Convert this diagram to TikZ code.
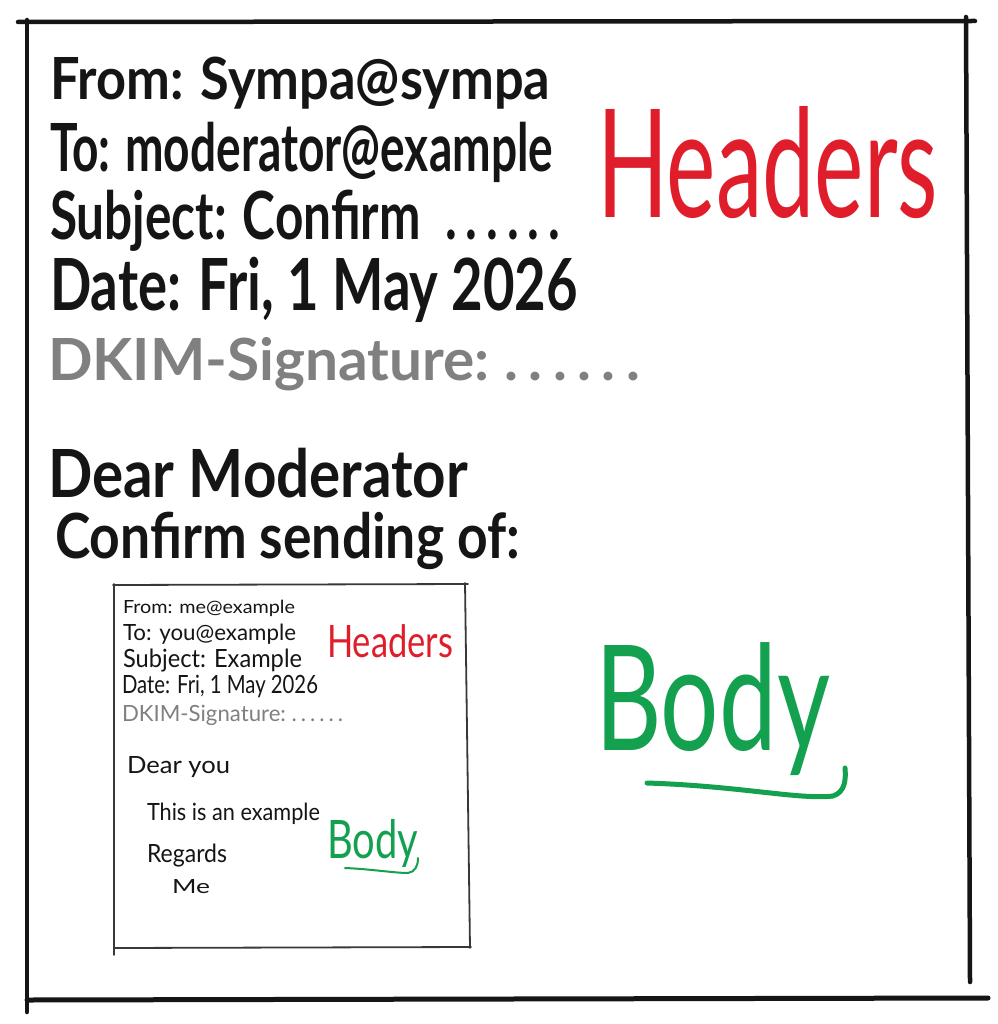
\documentclass[tikz,border=0pt]{standalone}
\usepackage{fontspec}
\usepackage{graphicx}
\setmainfont{Lato}
\definecolor{ink}{HTML}{151515}
\definecolor{hred}{HTML}{E01E2B}
\definecolor{bgreen}{HTML}{13A04F}
\definecolor{dkgray}{HTML}{808080}
\newcommand\fitxt[3]{\resizebox{#1pt}{#2pt}{\vphantom{H}\smash{#3}}}
\newcommand\sdots{.\kern0.18em.\kern0.18em.\kern0.18em.\kern0.18em.\kern0.18em.}
\tikzset{
  txt/.style={anchor=base west, inner sep=0pt, outer sep=0pt, text=ink, font=\fontsize{20}{24}\selectfont},
  bigtxt/.style={txt, font=\fontsize{20}{24}\selectfont\bfseries},
  frame/.style={draw=ink, line width=4.5pt, line cap=round},
  innerframe/.style={draw=ink!85, line width=1.8pt, line cap=round},
  hlabel/.style={txt, text=hred},
  blabel/.style={txt, text=bgreen},
  uline/.style={draw=bgreen, line cap=round},
}
\begin{document}
\begin{tikzpicture}[x=1pt,y=-1pt]
\useasboundingbox[fill=white] (0,0) rectangle (997,1024);
% outer frame
\draw[frame] (18,22) -- (975,21);
\draw[frame] (966,17) -- (970,982);
\draw[frame] (27,20) -- (27,1012);
\draw[frame, line width=5pt] (27,1000) -- (988,998);
% main header lines
\node[bigtxt] (from) at (50,100) {\fitxt{500}{42}{From: Sympa@sympa}};
\node[bigtxt] (to) at (50,172) {\fitxt{503}{48}{To: moderator@example}};
\node[bigtxt] (subj) at (50,240) {\fitxt{510}{48}{Subject: Confirm\ \ \sdots}};
\node[bigtxt] (date) at (50,310) {\fitxt{528}{52}{Date: Fri, 1 May 2026}};
\node[bigtxt, text=dkgray] (dkim) at (48,380) {\fitxt{592}{42}{DKIM-Signature:\ \sdots}};
\node[bigtxt] (dear) at (48,497) {\fitxt{420}{48}{Dear Moderator}};
\node[bigtxt] (conf) at (55,558) {\fitxt{465}{45}{Confirm sending of:}};
% big labels
\node[hlabel] (headers) at (597,218) {\fitxt{341}{108}{Headers}};
\node[blabel] (body) at (595,750) {\fitxt{235}{105}{Body}};
\draw[uline, line width=5pt] (647,783) .. controls (740,786) and (800,800) .. (833,796) .. controls (845,792) and (846,780) .. (845,768);
% inner frame
\draw[innerframe] (113,585) -- (468,584);
\draw[innerframe] (114,584) -- (114,955);
\draw[innerframe] (465,583) -- (470,948);
\draw[innerframe] (114,948) -- (471,947);
% inner text
\node[txt] (ifrom) at (123,613) {\fitxt{172}{13}{From: me@example}};
\node[txt] (ito) at (123,640) {\fitxt{173}{16}{To: you@example}};
\node[txt] (isubj) at (123,667) {\fitxt{179}{18}{Subject: Example}};
\node[txt] (idate) at (122,693) {\fitxt{196}{18}{Date: Fri, 1 May 2026}};
\node[txt, text=dkgray] (idkim) at (122,721) {\fitxt{221}{16}{DKIM-Signature:\ \sdots}};
\node[txt] (idear) at (127,773) {\fitxt{103}{17}{Dear you}};
\node[txt] (ithis) at (147,820) {\fitxt{173}{17}{This is an example}};
\node[txt] (iregards) at (147,862) {\fitxt{80}{18}{Regards}};
\node[txt] (ime) at (172,893) {\fitxt{38}{14}{Me}};
\node[hlabel] (iheaders) at (327,657) {\fitxt{126}{32}{Headers}};
\node[blabel] (ibody) at (327,858) {\fitxt{91}{38}{Body}};
\draw[uline, line width=2pt] (345,868) .. controls (370,869) and (395,873) .. (408,873) .. controls (415,872) and (418,866) .. (418,858);
\end{tikzpicture}
\end{document}
